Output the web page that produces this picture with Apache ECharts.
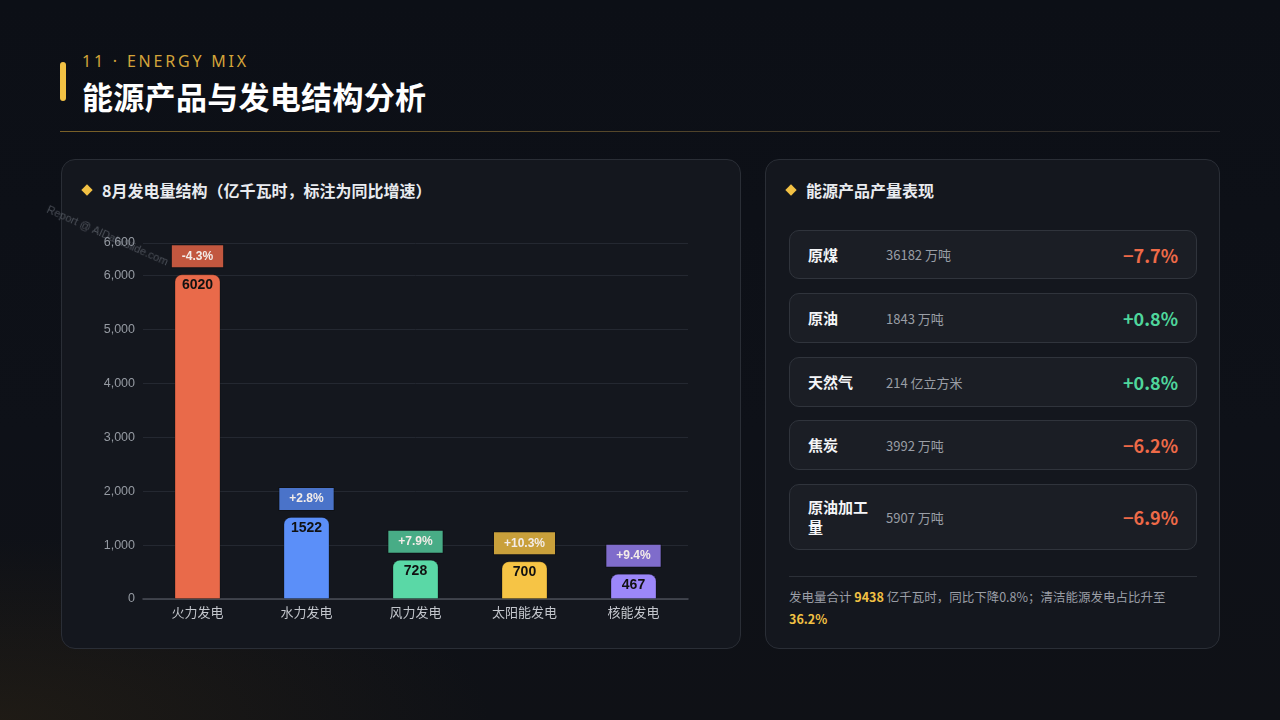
<!DOCTYPE html>
<html><head><meta charset="utf-8">
<script src="https://cdn.jsdelivr.net/npm/echarts@6/dist/echarts.min.js"></script>
<style>
html,body{margin:0;padding:0;width:1280px;height:720px;overflow:hidden;}
body{background:radial-gradient(ellipse 700px 260px at 0% 100%, rgba(60,45,20,0.35), rgba(0,0,0,0) 70%), linear-gradient(180deg,#0c0f16 0%,#0e1118 60%,#0f1116 100%);font-family:"Noto Sans CJK SC","Noto Sans",sans-serif;position:relative;}
.bar{position:absolute;left:60px;top:62px;width:6px;height:39px;border-radius:3px;background:#F2C144;}
.kicker{position:absolute;left:82px;top:50px;font-size:16px;letter-spacing:2.8px;color:#D4A43A;font-family:"Noto Sans","Noto Sans CJK SC",sans-serif;}
.title{position:absolute;left:82px;top:73px;font-size:31px;font-weight:700;color:#fff;letter-spacing:0.3px;}
.sep{position:absolute;left:60px;top:131px;width:1160px;height:1px;background:linear-gradient(90deg,#7a6128 0%,#54462a 50%,#24252b 100%);}
.panel{position:absolute;top:159px;height:490px;border-radius:14px;background:#14171e;border:1px solid #2a2e36;box-sizing:border-box;}
.ptitle{position:absolute;font-size:16px;font-weight:700;color:#e9ebef;}
.dia{position:absolute;width:8px;height:8px;background:#F2C144;transform:rotate(45deg);}
.card{position:absolute;left:789px;width:408px;border-radius:10px;background:#1b1e25;border:1px solid #30343c;box-sizing:border-box;}
.cname{position:absolute;left:18px;font-size:15px;font-weight:700;color:#f4f5f7;line-height:20px;}
.cval{position:absolute;left:96px;font-size:13px;color:#9a9ea6;}
.cpct{position:absolute;right:18px;font-size:18px;font-weight:700;}
.foot{position:absolute;left:789px;top:586px;width:408px;font-size:12.5px;color:#9a9ea6;line-height:22px;}
.foot b{color:#F2C144;}
.line2{position:absolute;left:789px;top:576px;width:408px;height:1px;background:#2c3038;}
#chart{position:absolute;left:61px;top:159px;width:679px;height:491px;}
.wm{position:absolute;left:50px;top:203px;font-size:11px;color:rgba(130,135,145,0.5);transform:rotate(24deg);transform-origin:0 0;font-family:"Liberation Sans",sans-serif;white-space:nowrap;}
</style></head>
<body>
<div class="bar"></div>
<div class="kicker">11 · ENERGY MIX</div>
<div class="title">能源产品与发电结构分析</div>
<div class="sep"></div>
<div class="panel" style="left:61px;width:680px;"></div>
<div class="panel" style="left:765px;width:455px;"></div>
<div class="dia" style="left:83px;top:186px;"></div>
<div class="ptitle" style="left:102px;top:178px;">8月发电量结构（亿千瓦时，标注为同比增速）</div>
<div class="dia" style="left:787px;top:186px;"></div>
<div class="ptitle" style="left:806px;top:178px;">能源产品产量表现</div>
<div id="chart"></div>
<div class="wm">Report @ AIDataSlide.com</div>
<div id="cards"></div>
<div class="line2"></div>
<div class="foot">发电量合计 <b>9438</b> 亿千瓦时，同比下降0.8%；清洁能源发电占比升至 <b>36.2%</b></div>
<script>
const categories = ['火力发电','水力发电','风力发电','太阳能发电','核能发电'];
const generation = [6020, 1522, 728, 700, 467];
const growthLabels = ['-4.3%','+2.8%','+7.9%','+10.3%','+9.4%'];
const barColors = ['#E96A4A','#5B8FF9','#5AD8A6','#F6C445','#9C87FA'];
const tagColors = ['#C2573F','#4A73C9','#48AC86','#C9A03B','#7F6CCB'];
const yTicks = {min:0, max:6600, interval:1000};

const productNames = ['原煤','原油','天然气','焦炭','原油加工量'];
const productAmounts = ['36182 万吨','1843 万吨','214 亿立方米','3992 万吨','5907 万吨'];
const productChanges = ['−7.7%','+0.8%','+0.8%','−6.2%','−6.9%'];
const cardTops = [230, 293, 357, 420, 484];
const cardHeights = [49, 50, 50, 50, 66];

const cardsEl = document.getElementById('cards');
productNames.forEach((n,i)=>{
  const c = document.createElement('div');
  c.className='card';
  c.style.top = cardTops[i]+'px';
  c.style.height = cardHeights[i]+'px';
  const h = cardHeights[i];
  const up = productChanges[i].startsWith('+');
  const nameHtml = n.length>4 ? n.slice(0,4)+'<br>'+n.slice(4) : n;
  const nameTop = n.length>4 ? (h-2-40)/2 : (h-2-20)/2;
  c.innerHTML = `<div class="cname" style="top:${nameTop}px">${nameHtml}</div>`+
    `<div class="cval" style="top:${(h-2-19)/2}px">${productAmounts[i]}</div>`+
    `<div class="cpct" style="top:${(h-2-26)/2}px;color:${up?'#4FD69C':'#EE6A48'}">${productChanges[i]}</div>`;
  cardsEl.appendChild(c);
});

const chart = echarts.init(document.getElementById('chart'));
const font = '"Liberation Sans","Noto Sans CJK SC",sans-serif';
chart.setOption({
  animation:false,
  grid:{left:82,right:52,top:84,bottom:51,containLabel:false},
  xAxis:{type:'category',data:categories,
    axisLine:{lineStyle:{color:'#4a4e57',width:1.5}},axisTick:{show:false},
    axisLabel:{color:'#c3c6cc',fontSize:13,margin:7,fontFamily:'"Noto Sans CJK SC",sans-serif'}},
  yAxis:{type:'value',min:yTicks.min,max:yTicks.max,interval:yTicks.interval,
    axisLabel:{color:'#959aa2',fontSize:12.5,margin:8,fontFamily:font},
    splitLine:{lineStyle:{color:'#242831',width:1}},axisLine:{show:false},axisTick:{show:false}},
  series:[
    {type:'bar',barWidth:46,z:3,
      data:generation.map((v,i)=>({value:v,itemStyle:{color:barColors[i],borderColor:'rgba(0,0,0,0.25)',borderWidth:1,borderRadius:[7,7,0,0]}})),
      label:{show:true,position:'insideTop',distance:4,color:'#111',fontWeight:'bold',fontSize:14,fontFamily:font}},
    {type:'bar',barWidth:46,barGap:'-100%',z:2,silent:true,
      data:generation.map((v,i)=>({value:v,itemStyle:{color:'rgba(0,0,0,0)'},
        label:{backgroundColor:tagColors[i],borderColor:'rgba(0,0,0,0.25)',borderWidth:1}})),
      label:{show:true,position:'top',distance:7,padding:[5,10,5,10],color:'#f3ece8',fontSize:12,fontWeight:'bold',fontFamily:font,
        formatter:p=>growthLabels[p.dataIndex]}}
  ]
});
</script>
</body></html>
